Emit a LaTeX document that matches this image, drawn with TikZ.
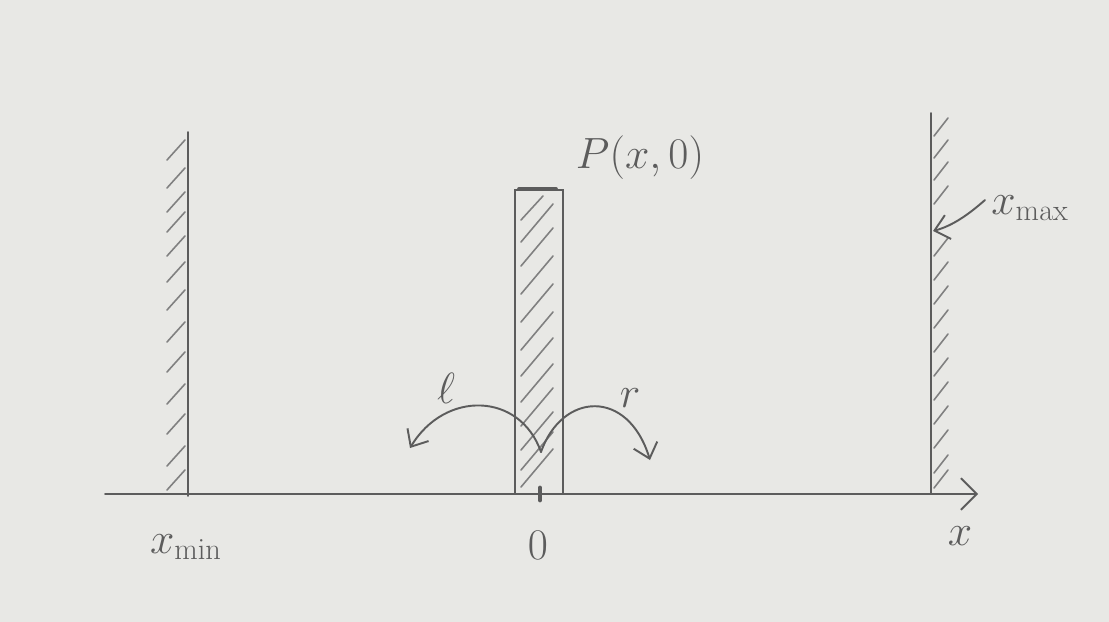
\documentclass[tikz,border=0pt]{standalone}
\usetikzlibrary{arrows.meta}
\definecolor{paper}{rgb}{0.91,0.91,0.90}
\definecolor{pencil}{rgb}{0.36,0.36,0.36}
\definecolor{hatchc}{rgb}{0.50,0.50,0.50}
\tikzset{
  pline/.style={draw=pencil, line width=1.1pt, line cap=round},
  hatchline/.style={draw=hatchc, line width=0.9pt, line cap=round},
  barb/.style={-{Straight Barb[length=8pt,width=14pt,line width=1.1pt]}},
  lbl/.style={text=pencil, inner sep=0pt, font=\fontsize{26}{30}\selectfont},
  biglbl/.style={text=pencil, inner sep=0pt, font=\fontsize{34}{38}\selectfont}
}
\begin{document}
\begin{tikzpicture}[x=0.02cm, y=-0.02cm]
\path[fill=paper, use as bounding box] (0,0) rectangle (1109,622);

% axis
\coordinate (ax0) at (105,494);
\coordinate (ax1) at (978,494);
\draw[pline, -{Straight Barb[length=9pt,width=18pt,line width=1.1pt]}] (ax0) -- (ax1);

% left wall
\coordinate (lw0) at (188,132);
\coordinate (lw1) at (188,496);
\draw[pline] (lw0) -- (lw1);
\foreach \y in {140,168,192,212,236,262,290,322,352,384,414,446,470}
  \draw[hatchline] (167,\y+20) -- (185,\y);

% right wall
\coordinate (rw0) at (931,113);
\coordinate (rw1) at (931,494);
\draw[pline] (rw0) -- (rw1);
\foreach \y in {118,140,162,186,238,262,286,310,334,358,382,406,430,455,470}
  \draw[hatchline] (934,\y+18) -- (948,\y);

% central bar
\coordinate (b0) at (515,190);
\coordinate (b1) at (563,494);
\draw[pline, line width=0.9pt] (b0) rectangle (b1);
\draw[hatchline] (521,220) -- (543,196);
\foreach \y in {242,266,294,322,350,376,402,426,450,470,487}
  \draw[hatchline] (521,\y) -- (553,\y-38);
\draw[pline, line width=2.2pt] (519,189) -- (556,189);

% origin tick
\coordinate (o0) at (540,488);
\coordinate (o1) at (540,500);
\draw[pline, line width=2.8pt] (o0) -- (o1);

% jump arrows
\coordinate (cusp) at (541,452);
\coordinate (lend) at (410,448);
\coordinate (rend) at (650,460);
\draw[pline, barb] (cusp) .. controls (520,392) and (445,390) .. (lend);
\draw[pline, barb] (cusp) .. controls (562,392) and (628,388) .. (rend);

% x_max pointer
\coordinate (mstart) at (985,200);
\coordinate (mend) at (933,231);
\draw[pline, barb] (mstart) .. controls (968,215) and (952,226) .. (mend);

% labels
\node[biglbl] (P) at (640,158) {$P(x,0)$};
\node[lbl] (zero) at (538,545) {$0$};
\node[lbl] (xlab) at (960,536) {$x$};
\node[lbl] (xmin) at (186,547) {$x_{\mathrm{min}}$};
\node[lbl] (xmax) at (1030,208) {$x_{\mathrm{max}}$};
\node[lbl] (ell) at (446,388) {$\ell$};
\node[lbl] (r) at (630,398) {$r$};
\end{tikzpicture}
\end{document}
